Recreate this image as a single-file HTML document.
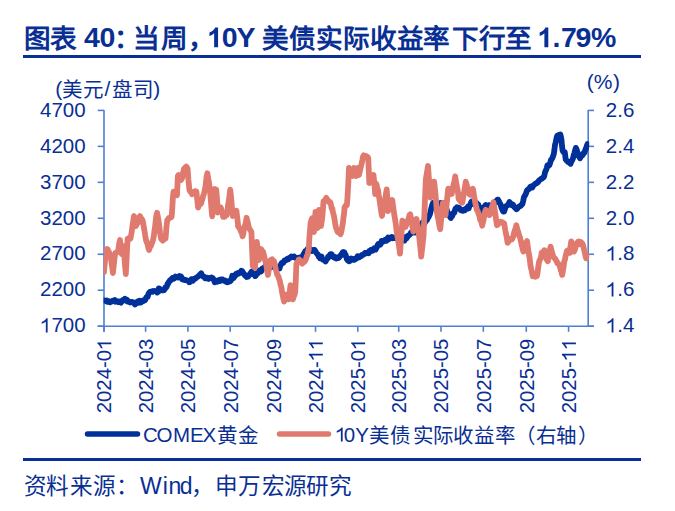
<!DOCTYPE html>
<html lang="zh-CN"><head><meta charset="utf-8">
<style>
html,body{margin:0;padding:0;background:#fff;}
body{width:675px;height:511px;overflow:hidden;position:relative;}
svg{position:absolute;left:0;top:0;}
text{font-family:"Liberation Sans",sans-serif;}
</style></head><body>
<svg width="675" height="511" viewBox="0 0 675 511">
<rect x="0" y="0" width="675" height="511" fill="#fff"/>
<defs><clipPath id="pc"><rect x="103.6" y="0" width="485.6" height="511"/></clipPath></defs>
<text x="23.50" y="47.7" font-size="26.6" font-weight="bold" fill="#0a2f94">图</text><text x="50.05" y="47.7" font-size="26.6" font-weight="bold" fill="#0a2f94">表</text><text x="84.00" y="47.2" font-size="28.5" font-weight="bold" fill="#0a2f94">4</text><text x="99.55" y="47.2" font-size="28.5" font-weight="bold" fill="#0a2f94">0</text><text x="114.40" y="47.7" font-size="26.6" font-weight="bold" fill="#0a2f94">：</text><text x="133.35" y="47.7" font-size="26.6" font-weight="bold" fill="#0a2f94">当</text><text x="161.05" y="47.7" font-size="26.6" font-weight="bold" fill="#0a2f94">周</text><text x="188.45" y="47.7" font-size="26.6" font-weight="bold" fill="#0a2f94">，</text><path transform="translate(206.21,47.20) scale(0.01392,-0.01392)" d="M851 0L570 0L570 1000C472 910 360 845 232 802L232 1050C304 1075 382 1118 466 1180C550 1243 609 1319 643 1409L851 1409Z" fill="#0a2f94"/><text x="221.85" y="47.2" font-size="28.5" font-weight="bold" fill="#0a2f94">0</text><text x="236.50" y="47.2" font-size="28.5" font-weight="bold" fill="#0a2f94">Y</text><text x="261.95" y="47.7" font-size="26.6" font-weight="bold" fill="#0a2f94">美</text><text x="289.05" y="47.7" font-size="26.6" font-weight="bold" fill="#0a2f94">债</text><text x="315.80" y="47.7" font-size="26.6" font-weight="bold" fill="#0a2f94">实</text><text x="342.85" y="47.7" font-size="26.6" font-weight="bold" fill="#0a2f94">际</text><text x="369.60" y="47.7" font-size="26.6" font-weight="bold" fill="#0a2f94">收</text><text x="396.75" y="47.7" font-size="26.6" font-weight="bold" fill="#0a2f94">益</text><text x="423.35" y="47.7" font-size="26.6" font-weight="bold" fill="#0a2f94">率</text><text x="451.95" y="47.7" font-size="26.6" font-weight="bold" fill="#0a2f94">下</text><text x="478.70" y="47.7" font-size="26.6" font-weight="bold" fill="#0a2f94">行</text><text x="504.80" y="47.7" font-size="26.6" font-weight="bold" fill="#0a2f94">至</text><path transform="translate(536.46,47.20) scale(0.01392,-0.01392)" d="M851 0L570 0L570 1000C472 910 360 845 232 802L232 1050C304 1075 382 1118 466 1180C550 1243 609 1319 643 1409L851 1409Z" fill="#0a2f94"/><text x="552.45" y="47.2" font-size="28.5" font-weight="bold" fill="#0a2f94">.</text><text x="560.90" y="47.2" font-size="28.5" font-weight="bold" fill="#0a2f94">7</text><text x="575.55" y="47.2" font-size="28.5" font-weight="bold" fill="#0a2f94">9</text><text x="591.00" y="47.2" font-size="28.5" font-weight="bold" fill="#0a2f94">%</text>
<rect x="23" y="55" width="618" height="3" fill="#0a2f94"/>
<g fill="#0a2f94" font-size="20.5">
<path transform="translate(40.00,332.40) scale(0.01001,-0.01001)" d="M763 0L583 0L583 1100C538 1058 480 1016 410 975C340 934 230 890 170 870L170 1040C269 1086 380 1150 470 1222C545 1289 613 1351 645 1409L763 1409Z" fill="#0a2f94"/><text x="51.40" y="332.40" font-size="20.5" font-weight="normal" fill="#0a2f94">700</text><text x="40.00" y="296.43" font-size="20.5" font-weight="normal" fill="#0a2f94">2200</text><text x="40.00" y="260.47" font-size="20.5" font-weight="normal" fill="#0a2f94">2700</text><text x="40.00" y="224.50" font-size="20.5" font-weight="normal" fill="#0a2f94">3200</text><text x="40.00" y="188.53" font-size="20.5" font-weight="normal" fill="#0a2f94">3700</text><text x="40.00" y="152.57" font-size="20.5" font-weight="normal" fill="#0a2f94">4200</text><text x="40.00" y="116.60" font-size="20.5" font-weight="normal" fill="#0a2f94">4700</text>
<path transform="translate(605.80,332.40) scale(0.01001,-0.01001)" d="M763 0L583 0L583 1100C538 1058 480 1016 410 975C340 934 230 890 170 870L170 1040C269 1086 380 1150 470 1222C545 1289 613 1351 645 1409L763 1409Z" fill="#0a2f94"/><text x="617.20" y="332.40" font-size="20.5" font-weight="normal" fill="#0a2f94">.4</text><path transform="translate(605.80,296.43) scale(0.01001,-0.01001)" d="M763 0L583 0L583 1100C538 1058 480 1016 410 975C340 934 230 890 170 870L170 1040C269 1086 380 1150 470 1222C545 1289 613 1351 645 1409L763 1409Z" fill="#0a2f94"/><text x="617.20" y="296.43" font-size="20.5" font-weight="normal" fill="#0a2f94">.6</text><path transform="translate(605.80,260.47) scale(0.01001,-0.01001)" d="M763 0L583 0L583 1100C538 1058 480 1016 410 975C340 934 230 890 170 870L170 1040C269 1086 380 1150 470 1222C545 1289 613 1351 645 1409L763 1409Z" fill="#0a2f94"/><text x="617.20" y="260.47" font-size="20.5" font-weight="normal" fill="#0a2f94">.8</text><text x="605.80" y="224.50" font-size="20.5" font-weight="normal" fill="#0a2f94">2.0</text><text x="605.80" y="188.53" font-size="20.5" font-weight="normal" fill="#0a2f94">2.2</text><text x="605.80" y="152.57" font-size="20.5" font-weight="normal" fill="#0a2f94">2.4</text><text x="605.80" y="116.60" font-size="20.5" font-weight="normal" fill="#0a2f94">2.6</text>
<g transform="translate(111.30,413.2) rotate(-90)"><text x="0.00" y="0.00" font-size="20.3" font-weight="normal" fill="#0a2f94">2024-0</text><path transform="translate(63.21,0.00) scale(0.00991,-0.00991)" d="M763 0L583 0L583 1100C538 1058 480 1016 410 975C340 934 230 890 170 870L170 1040C269 1086 380 1150 470 1222C545 1289 613 1351 645 1409L763 1409Z" fill="#0a2f94"/></g><g transform="translate(152.91,413.2) rotate(-90)"><text x="0.00" y="0.00" font-size="20.3" font-weight="normal" fill="#0a2f94">2024-03</text></g><g transform="translate(195.21,413.2) rotate(-90)"><text x="0.00" y="0.00" font-size="20.3" font-weight="normal" fill="#0a2f94">2024-05</text></g><g transform="translate(237.50,413.2) rotate(-90)"><text x="0.00" y="0.00" font-size="20.3" font-weight="normal" fill="#0a2f94">2024-07</text></g><g transform="translate(280.50,413.2) rotate(-90)"><text x="0.00" y="0.00" font-size="20.3" font-weight="normal" fill="#0a2f94">2024-09</text></g><g transform="translate(322.80,413.2) rotate(-90)"><text x="0.00" y="0.00" font-size="20.3" font-weight="normal" fill="#0a2f94">2024-</text><path transform="translate(51.92,0.00) scale(0.00991,-0.00991)" d="M763 0L583 0L583 1100C538 1058 480 1016 410 975C340 934 230 890 170 870L170 1040C269 1086 380 1150 470 1222C545 1289 613 1351 645 1409L763 1409Z" fill="#0a2f94"/><path transform="translate(63.21,0.00) scale(0.00991,-0.00991)" d="M763 0L583 0L583 1100C538 1058 480 1016 410 975C340 934 230 890 170 870L170 1040C269 1086 380 1150 470 1222C545 1289 613 1351 645 1409L763 1409Z" fill="#0a2f94"/></g><g transform="translate(365.10,413.2) rotate(-90)"><text x="0.00" y="0.00" font-size="20.3" font-weight="normal" fill="#0a2f94">2025-0</text><path transform="translate(63.21,0.00) scale(0.00991,-0.00991)" d="M763 0L583 0L583 1100C538 1058 480 1016 410 975C340 934 230 890 170 870L170 1040C269 1086 380 1150 470 1222C545 1289 613 1351 645 1409L763 1409Z" fill="#0a2f94"/></g><g transform="translate(406.01,413.2) rotate(-90)"><text x="0.00" y="0.00" font-size="20.3" font-weight="normal" fill="#0a2f94">2025-03</text></g><g transform="translate(448.31,413.2) rotate(-90)"><text x="0.00" y="0.00" font-size="20.3" font-weight="normal" fill="#0a2f94">2025-05</text></g><g transform="translate(490.61,413.2) rotate(-90)"><text x="0.00" y="0.00" font-size="20.3" font-weight="normal" fill="#0a2f94">2025-07</text></g><g transform="translate(533.60,413.2) rotate(-90)"><text x="0.00" y="0.00" font-size="20.3" font-weight="normal" fill="#0a2f94">2025-09</text></g><g transform="translate(575.90,413.2) rotate(-90)"><text x="0.00" y="0.00" font-size="20.3" font-weight="normal" fill="#0a2f94">2025-</text><path transform="translate(51.92,0.00) scale(0.00991,-0.00991)" d="M763 0L583 0L583 1100C538 1058 480 1016 410 975C340 934 230 890 170 870L170 1040C269 1086 380 1150 470 1222C545 1289 613 1351 645 1409L763 1409Z" fill="#0a2f94"/><path transform="translate(63.21,0.00) scale(0.00991,-0.00991)" d="M763 0L583 0L583 1100C538 1058 480 1016 410 975C340 934 230 890 170 870L170 1040C269 1086 380 1150 470 1222C545 1289 613 1351 645 1409L763 1409Z" fill="#0a2f94"/></g>
</g>
<g stroke="#4f7fd0" stroke-width="1.6" fill="none">
<line x1="104" y1="109.9" x2="104" y2="331.8" /><line x1="588.2" y1="109.9" x2="588.2" y2="326.2" /><line x1="97.7" y1="326.2" x2="594" y2="326.2" /><line x1="97.7" y1="326.20" x2="104" y2="326.20" /><line x1="588.2" y1="326.20" x2="594" y2="326.20" /><line x1="97.7" y1="290.23" x2="104" y2="290.23" /><line x1="588.2" y1="290.23" x2="594" y2="290.23" /><line x1="97.7" y1="254.27" x2="104" y2="254.27" /><line x1="588.2" y1="254.27" x2="594" y2="254.27" /><line x1="97.7" y1="218.30" x2="104" y2="218.30" /><line x1="588.2" y1="218.30" x2="594" y2="218.30" /><line x1="97.7" y1="182.33" x2="104" y2="182.33" /><line x1="588.2" y1="182.33" x2="594" y2="182.33" /><line x1="97.7" y1="146.37" x2="104" y2="146.37" /><line x1="588.2" y1="146.37" x2="594" y2="146.37" /><line x1="97.7" y1="110.40" x2="104" y2="110.40" /><line x1="588.2" y1="110.40" x2="594" y2="110.40" /><line x1="104.00" y1="326.2" x2="104.00" y2="331.8" /><line x1="145.61" y1="326.2" x2="145.61" y2="331.8" /><line x1="187.91" y1="326.2" x2="187.91" y2="331.8" /><line x1="230.20" y1="326.2" x2="230.20" y2="331.8" /><line x1="273.20" y1="326.2" x2="273.20" y2="331.8" /><line x1="315.50" y1="326.2" x2="315.50" y2="331.8" /><line x1="357.80" y1="326.2" x2="357.80" y2="331.8" /><line x1="398.71" y1="326.2" x2="398.71" y2="331.8" /><line x1="441.01" y1="326.2" x2="441.01" y2="331.8" /><line x1="483.31" y1="326.2" x2="483.31" y2="331.8" /><line x1="526.30" y1="326.2" x2="526.30" y2="331.8" /><line x1="568.60" y1="326.2" x2="568.60" y2="331.8" />
</g>
<g clip-path="url(#pc)">
<path d="M103.0,300.3 L104.0,300.3 L104.7,300.6 L105.3,300.6 L106.0,301.1 L106.7,300.5 L107.3,301.8 L108.0,301.0 L108.7,301.1 L109.3,301.5 L110.0,302.3 L110.6,301.9 L111.2,301.7 L111.9,301.5 L112.6,300.8 L113.3,301.1 L114.0,300.6 L114.7,300.1 L115.4,301.7 L116.1,300.8 L116.7,301.7 L117.4,301.7 L118.1,302.0 L118.8,301.5 L119.4,301.5 L120.1,302.4 L120.8,302.7 L121.4,301.9 L122.1,301.0 L122.8,300.1 L123.4,299.8 L124.1,299.5 L124.8,298.8 L125.4,300.4 L126.1,300.3 L126.8,299.8 L127.4,301.4 L128.1,301.0 L128.8,301.4 L129.5,302.1 L130.1,302.6 L130.8,302.0 L131.5,301.9 L132.2,302.1 L132.9,302.3 L133.6,303.0 L134.3,303.5 L135.0,304.4 L135.7,303.7 L136.3,302.2 L137.0,302.4 L137.7,301.5 L138.3,302.8 L139.0,302.3 L139.6,300.8 L140.3,302.0 L141.0,302.4 L141.6,301.3 L142.3,300.8 L143.0,301.2 L143.7,300.3 L144.3,300.1 L145.0,300.3 L145.7,298.8 L146.4,297.3 L147.1,296.9 L147.7,296.8 L148.4,294.1 L149.1,292.7 L149.8,292.0 L150.5,292.1 L151.2,291.5 L151.9,291.3 L152.6,291.8 L153.3,291.0 L154.0,291.1 L154.6,291.0 L155.3,291.2 L156.0,291.4 L156.7,291.1 L157.3,292.5 L158.0,292.0 L158.8,288.4 L159.6,288.7 L160.4,290.2 L161.1,290.3 L161.8,290.3 L162.6,290.0 L163.3,290.3 L164.0,290.2 L164.7,289.3 L165.3,287.4 L166.0,287.5 L166.7,286.9 L167.4,284.1 L168.0,283.9 L168.7,282.0 L169.4,281.6 L170.0,280.1 L170.7,280.1 L171.4,279.8 L172.0,278.6 L172.7,277.9 L173.4,277.7 L174.0,278.6 L174.7,277.8 L175.4,276.5 L176.0,276.9 L176.7,277.4 L177.4,277.3 L178.1,277.6 L178.7,276.8 L179.4,276.0 L180.1,276.5 L180.9,276.5 L181.6,277.5 L182.3,279.4 L183.0,279.7 L183.8,279.4 L184.5,280.0 L185.2,279.8 L185.8,279.8 L186.5,280.3 L187.2,280.6 L187.9,280.9 L188.5,280.9 L189.2,282.3 L189.9,282.1 L190.7,280.8 L191.4,279.1 L192.1,279.3 L192.9,280.7 L193.6,279.9 L194.4,278.6 L195.1,278.8 L195.8,278.2 L196.4,277.5 L197.1,277.0 L197.8,276.8 L198.5,276.1 L199.2,275.7 L199.8,274.5 L200.5,274.0 L201.2,273.3 L201.8,274.5 L202.5,275.8 L203.2,276.6 L203.8,276.4 L204.5,277.0 L205.1,278.4 L205.8,278.2 L206.5,277.9 L207.2,277.7 L207.9,278.4 L208.6,278.9 L209.4,278.0 L210.1,277.9 L210.8,278.1 L211.5,277.5 L212.2,278.5 L212.9,278.2 L213.5,279.6 L214.1,280.6 L214.7,282.3 L215.4,282.0 L216.1,281.4 L216.8,281.8 L217.5,280.6 L218.2,280.2 L218.9,281.3 L219.6,281.1 L220.3,279.7 L221.0,279.4 L221.7,279.4 L222.4,279.4 L223.1,280.5 L223.7,280.7 L224.4,280.3 L225.1,280.3 L225.8,281.6 L226.4,281.9 L227.1,282.3 L227.8,282.3 L228.6,281.3 L229.3,281.7 L230.1,281.3 L230.8,280.6 L231.5,278.8 L232.3,275.8 L233.0,277.6 L233.7,277.9 L234.4,276.6 L235.2,275.6 L235.9,274.1 L236.6,274.6 L237.3,273.2 L237.9,273.0 L238.6,273.6 L239.3,273.3 L240.0,272.6 L240.7,271.7 L241.3,270.8 L242.0,271.0 L242.7,271.8 L243.3,273.3 L244.0,273.8 L244.7,275.0 L245.4,275.8 L246.0,276.2 L246.7,277.0 L247.4,276.8 L248.1,276.6 L248.8,275.2 L249.5,274.9 L250.2,273.6 L250.9,272.9 L251.6,271.6 L252.3,273.2 L253.0,274.3 L253.8,273.6 L254.5,274.3 L255.2,276.1 L255.9,275.4 L256.6,273.9 L257.2,273.9 L257.9,273.3 L258.6,271.8 L259.2,270.6 L259.9,271.3 L260.6,271.7 L261.2,271.4 L261.9,268.9 L262.6,268.3 L263.4,268.5 L264.1,267.6 L264.9,266.7 L265.6,267.6 L266.3,268.4 L267.1,267.7 L267.8,267.5 L268.5,267.5 L269.2,266.9 L269.9,267.3 L270.6,266.8 L271.2,266.9 L271.9,266.9 L272.6,266.6 L273.3,266.5 L274.0,266.0 L274.7,267.2 L275.4,267.0 L276.0,267.8 L276.7,267.4 L277.4,267.8 L278.0,267.8 L278.7,268.4 L279.4,268.5 L280.2,266.0 L280.9,264.7 L281.7,263.0 L282.4,263.4 L283.2,262.9 L283.9,261.8 L284.6,260.3 L285.4,260.2 L286.1,260.3 L286.9,259.0 L287.6,258.8 L288.3,259.2 L289.1,257.9 L289.8,257.8 L290.6,257.4 L291.3,256.5 L292.0,257.2 L292.8,256.6 L293.5,257.0 L294.2,256.6 L294.8,257.3 L295.5,258.0 L296.2,258.1 L296.9,258.0 L297.5,258.0 L298.2,259.4 L298.9,259.7 L299.5,257.6 L300.2,257.4 L300.9,258.4 L301.6,257.2 L302.2,257.0 L302.9,255.9 L303.7,253.7 L304.4,253.3 L305.2,251.2 L306.0,252.4 L306.7,250.8 L307.5,248.9 L308.2,249.5 L309.0,250.0 L309.7,249.1 L310.4,249.2 L311.1,249.9 L311.8,251.0 L312.5,250.7 L313.2,250.3 L313.9,250.0 L314.6,250.0 L315.3,251.0 L316.0,252.3 L316.7,253.4 L317.4,254.0 L318.1,255.0 L318.8,256.8 L319.4,257.1 L320.1,258.3 L320.8,257.6 L321.5,256.5 L322.1,258.3 L322.8,259.6 L323.5,259.6 L324.2,260.2 L324.8,260.8 L325.5,261.5 L326.2,259.9 L326.9,259.3 L327.5,258.5 L328.2,256.5 L328.9,256.0 L329.5,256.6 L330.2,254.3 L330.9,254.1 L331.6,254.3 L332.2,255.6 L332.9,256.1 L333.5,257.1 L334.2,257.6 L334.9,256.9 L335.5,257.0 L336.2,258.5 L337.0,258.1 L337.7,257.6 L338.5,258.0 L339.2,257.4 L340.0,256.0 L340.7,255.7 L341.4,254.3 L342.1,253.3 L342.8,252.1 L343.5,252.0 L344.2,252.2 L344.9,253.9 L345.6,254.8 L346.2,256.8 L346.9,259.2 L347.6,260.3 L348.3,260.7 L349.0,261.3 L349.7,261.0 L350.4,260.0 L351.1,258.4 L351.8,258.9 L352.5,259.8 L353.2,259.7 L353.9,259.0 L354.6,259.7 L355.4,259.1 L356.1,258.6 L356.8,258.0 L357.5,256.2 L358.3,256.2 L359.0,257.5 L359.7,256.9 L360.5,256.1 L361.2,256.2 L362.0,254.9 L362.7,254.8 L363.5,254.6 L364.2,254.0 L364.9,253.1 L365.7,253.5 L366.4,253.4 L367.2,252.3 L367.9,252.3 L368.7,253.3 L369.4,251.0 L370.1,251.4 L370.8,250.0 L371.5,249.6 L372.2,249.5 L372.8,250.7 L373.5,249.7 L374.2,248.3 L374.9,248.9 L375.6,249.5 L376.2,248.5 L376.9,247.1 L377.5,245.3 L378.2,244.1 L378.8,245.0 L379.5,244.6 L380.2,244.8 L380.9,243.6 L381.6,240.9 L382.2,241.2 L382.9,241.6 L383.6,240.9 L384.3,241.1 L385.0,240.0 L385.7,240.8 L386.5,240.8 L387.2,238.8 L388.0,237.6 L388.7,239.3 L389.5,238.7 L390.2,237.5 L391.0,238.0 L391.8,237.2 L392.5,238.1 L393.3,237.5 L394.0,238.1 L394.8,238.2 L395.5,237.8 L396.3,237.1 L397.0,238.5 L397.8,239.0 L398.5,238.7 L399.2,238.6 L400.0,239.6 L400.7,240.3 L401.4,240.8 L402.2,240.2 L402.9,239.6 L403.7,239.9 L404.4,240.5 L405.2,239.4 L406.0,237.0 L406.7,238.2 L407.3,237.1 L408.0,235.7 L408.7,235.6 L409.3,235.1 L410.0,234.3 L410.7,233.1 L411.3,232.3 L412.0,233.0 L412.7,232.8 L413.3,230.7 L414.0,230.8 L414.7,232.0 L415.3,232.5 L416.0,230.9 L416.7,229.4 L417.3,229.1 L418.0,229.0 L418.7,227.7 L419.3,227.2 L420.0,225.5 L420.7,224.5 L421.3,224.4 L422.0,224.0 L422.7,222.3 L423.4,222.7 L424.1,223.8 L424.9,222.6 L425.6,220.8 L426.3,220.6 L427.0,220.0 L427.8,217.9 L428.5,217.3 L429.2,215.7 L430.0,214.0 L430.8,210.5 L431.5,207.6 L432.2,205.1 L433.0,203.0 L433.7,204.1 L434.4,204.2 L435.1,203.4 L435.9,202.3 L436.6,202.3 L437.3,202.4 L438.0,203.0 L438.7,203.6 L439.3,203.9 L440.0,203.3 L440.7,202.9 L441.3,203.1 L442.0,203.7 L442.7,203.3 L443.3,203.1 L444.0,204.0 L444.7,205.0 L445.4,205.6 L446.0,207.3 L446.7,209.8 L447.4,212.2 L448.1,213.0 L448.8,214.3 L449.4,215.6 L450.1,216.9 L450.8,218.0 L451.5,216.1 L452.2,216.1 L452.8,214.0 L453.5,212.9 L454.2,212.9 L454.9,210.4 L455.5,208.6 L456.2,208.1 L456.9,207.3 L457.6,207.7 L458.4,207.7 L459.1,207.8 L459.9,209.1 L460.6,210.0 L461.3,210.4 L462.1,210.3 L462.8,210.8 L463.5,209.8 L464.3,209.6 L465.0,210.2 L465.8,208.7 L466.5,208.4 L467.2,207.8 L468.0,206.6 L468.7,208.4 L469.5,205.8 L470.3,204.4 L471.1,202.5 L471.8,201.5 L472.5,201.6 L473.2,203.5 L473.9,204.2 L474.6,203.1 L475.4,202.7 L476.1,202.6 L476.8,203.2 L477.5,204.3 L478.2,204.3 L478.9,206.7 L479.5,207.3 L480.1,207.4 L480.8,207.9 L481.5,208.1 L482.1,211.0 L482.8,209.5 L483.5,208.6 L484.3,207.4 L485.0,205.7 L485.7,205.0 L486.4,206.0 L487.1,205.9 L487.9,206.2 L488.6,205.3 L489.3,205.1 L490.0,207.0 L490.7,206.9 L491.4,206.7 L492.0,204.8 L492.7,204.8 L493.4,203.8 L494.1,203.6 L494.7,203.1 L495.4,201.7 L496.1,201.0 L496.8,200.9 L497.4,199.6 L498.1,199.7 L498.8,201.1 L499.4,202.3 L500.1,203.6 L500.8,205.1 L501.4,207.4 L502.1,209.1 L502.7,210.6 L503.4,211.6 L504.1,211.4 L504.7,209.8 L505.4,207.5 L506.1,206.0 L506.7,205.9 L507.4,205.4 L508.1,204.5 L508.7,203.7 L509.4,202.0 L510.1,202.7 L510.8,205.0 L511.5,205.1 L512.2,204.3 L513.0,204.6 L513.7,206.3 L514.4,207.2 L515.1,207.2 L515.8,208.6 L516.5,209.2 L517.2,208.6 L518.0,207.6 L518.7,206.6 L519.5,206.3 L520.2,206.1 L520.9,205.6 L521.7,204.6 L522.4,203.9 L523.2,200.9 L524.0,197.0 L524.7,195.9 L525.4,194.9 L526.1,193.2 L526.8,191.0 L527.5,189.8 L528.2,189.3 L528.9,189.1 L529.6,188.0 L530.3,186.9 L531.0,186.7 L531.7,186.2 L532.4,187.4 L533.1,185.7 L533.8,185.2 L534.5,184.5 L535.2,183.9 L535.9,183.4 L536.6,183.3 L537.2,182.4 L537.9,182.3 L538.5,181.4 L539.2,180.2 L539.9,179.8 L540.5,179.4 L541.2,178.7 L542.0,178.6 L542.8,177.7 L543.5,177.4 L544.2,176.3 L544.8,173.2 L545.5,170.9 L546.1,169.9 L546.8,168.0 L547.4,165.3 L548.1,165.1 L548.8,165.7 L549.4,165.0 L550.0,163.4 L550.6,161.4 L551.2,159.4 L551.9,159.0 L552.5,157.8 L553.1,156.0 L553.8,154.1 L554.4,150.0 L555.0,145.0 L555.8,141.9 L556.5,138.2 L557.2,135.8 L558.0,135.5 L558.8,134.9 L559.6,135.3 L560.4,134.5 L561.0,137.4 L561.5,140.0 L562.0,146.0 L562.6,150.6 L563.3,151.9 L564.1,151.7 L564.8,152.3 L565.7,159.4 L566.4,160.4 L567.2,160.9 L567.9,162.0 L568.6,161.9 L569.2,162.7 L569.9,163.2 L570.6,163.8 L571.2,161.7 L571.9,160.6 L572.6,159.5 L573.2,157.6 L573.9,154.5 L574.5,153.0 L575.1,150.5 L575.8,147.9 L576.5,149.0 L577.1,151.2 L577.8,153.0 L578.5,155.8 L579.3,157.0 L580.1,158.3 L580.8,156.3 L581.5,155.6 L582.3,155.5 L583.0,154.4 L583.8,152.8 L584.5,152.6 L585.2,150.3 L586.0,148.5 L586.8,145.8 L587.5,144.1" fill="none" stroke="#00309a" stroke-width="5.8" stroke-linejoin="round" stroke-linecap="round"/>
<path d="M103.0,272.0 L104.0,272.0 L104.8,263.2 L105.5,255.0 L106.2,250.5 L107.0,249.0 L107.7,249.3 L108.3,251.8 L109.0,252.0 L109.8,254.5 L110.6,256.0 L111.4,261.7 L112.1,266.7 L112.9,273.0 L113.7,265.7 L114.5,258.7 L115.3,253.0 L116.1,253.1 L116.8,252.1 L117.6,252.0 L118.4,249.3 L119.2,243.7 L120.0,240.0 L120.8,246.8 L121.7,254.0 L122.3,250.9 L122.9,249.7 L123.5,246.0 L124.3,255.5 L125.0,265.2 L125.8,274.0 L126.4,263.4 L127.0,250.2 L127.6,239.0 L128.4,239.6 L129.1,237.9 L129.9,239.0 L130.5,238.4 L131.1,235.1 L131.7,232.0 L132.5,225.6 L133.2,221.4 L134.0,216.0 L134.7,219.4 L135.3,223.1 L136.0,226.0 L136.7,224.2 L137.3,223.2 L138.0,222.7 L138.7,220.3 L139.3,217.4 L140.0,216.0 L140.8,218.2 L141.5,218.7 L142.2,219.6 L143.0,222.0 L143.8,227.1 L144.5,230.7 L145.2,235.4 L146.0,240.0 L146.8,242.5 L147.5,243.8 L148.2,247.4 L149.0,250.0 L149.7,247.9 L150.3,246.7 L151.0,245.8 L151.7,243.5 L152.3,242.3 L153.0,240.0 L153.8,236.2 L154.5,230.3 L155.2,225.7 L156.0,218.0 L156.6,214.5 L157.1,212.8 L157.9,216.9 L158.6,221.0 L159.4,226.9 L160.0,232.4 L160.6,236.1 L161.2,239.2 L161.9,239.3 L162.7,240.6 L163.4,239.5 L164.1,239.4 L164.9,237.7 L165.6,238.3 L166.4,227.5 L167.3,219.8 L168.0,219.9 L168.8,218.0 L169.5,217.8 L170.2,217.7 L171.0,217.5 L171.7,216.3 L172.3,207.5 L172.9,197.3 L173.5,191.7 L174.2,192.7 L174.9,194.0 L175.6,194.5 L176.3,194.1 L177.0,195.2 L177.9,175.8 L178.6,175.0 L179.3,176.0 L180.0,177.5 L180.7,180.1 L181.4,179.4 L182.1,177.9 L182.7,174.9 L183.3,171.8 L184.0,168.8 L184.7,168.4 L185.4,167.2 L186.2,166.6 L186.9,167.3 L187.6,168.8 L188.4,179.8 L189.3,189.0 L190.0,191.5 L190.7,191.5 L191.4,192.1 L192.1,194.3 L192.8,193.4 L193.5,193.7 L194.2,193.3 L195.0,191.3 L195.7,191.1 L196.4,191.7 L197.2,199.2 L198.1,207.5 L198.8,205.9 L199.6,203.5 L200.3,203.1 L201.0,203.7 L201.8,200.8 L202.5,198.7 L203.2,195.7 L203.8,194.3 L204.4,192.1 L205.1,189.0 L205.9,182.8 L206.6,176.6 L207.4,173.2 L208.1,178.6 L208.8,181.2 L209.5,186.4 L210.2,192.5 L210.8,199.9 L211.5,208.9 L212.2,216.3 L212.8,208.3 L213.4,200.1 L214.0,190.8 L214.7,189.1 L215.5,191.0 L216.2,189.6 L217.1,199.9 L217.9,212.5 L218.6,212.0 L219.2,209.9 L219.9,209.4 L220.6,207.2 L221.2,208.8 L221.9,211.7 L222.5,213.0 L223.2,216.9 L223.9,216.7 L224.6,216.8 L225.3,214.6 L226.0,213.7 L226.7,215.1 L227.4,211.6 L228.1,204.9 L228.8,200.6 L229.5,196.0 L230.2,189.6 L230.9,195.4 L231.6,203.3 L232.2,211.0 L232.9,216.0 L233.6,215.3 L234.3,213.3 L235.0,211.6 L235.7,210.8 L236.4,210.7 L237.0,215.8 L237.6,220.7 L238.2,226.6 L238.9,227.4 L239.7,228.6 L240.4,230.0 L241.1,231.7 L241.9,233.3 L242.6,236.3 L243.3,233.6 L243.9,229.4 L244.6,226.6 L245.3,224.5 L245.9,222.0 L246.6,217.8 L247.3,220.6 L248.0,223.4 L248.7,227.0 L249.4,228.6 L250.1,229.9 L250.7,230.7 L251.4,232.0 L252.1,249.4 L252.8,266.0 L253.5,266.2 L254.2,266.9 L254.9,268.0 L255.6,258.2 L256.2,250.2 L256.9,242.0 L257.6,249.9 L258.3,254.6 L259.0,260.0 L259.7,256.8 L260.3,254.1 L261.0,249.0 L261.7,250.6 L262.4,251.0 L263.1,252.0 L263.8,254.6 L264.5,258.0 L265.2,260.7 L265.9,263.3 L266.5,266.1 L267.2,271.1 L267.9,275.0 L268.6,271.0 L269.2,267.0 L269.9,262.7 L270.6,260.0 L271.3,259.8 L272.0,259.3 L272.6,261.7 L273.3,261.9 L274.0,261.0 L274.6,263.2 L275.3,266.7 L275.9,270.0 L276.7,272.6 L277.4,275.1 L278.2,276.0 L279.0,278.5 L279.8,280.9 L280.6,285.0 L281.4,287.3 L282.1,292.3 L282.9,296.0 L283.5,299.3 L284.1,301.5 L284.9,299.7 L285.6,298.1 L286.4,294.6 L287.2,295.5 L288.0,297.1 L288.8,299.3 L289.6,292.9 L290.5,285.2 L291.3,289.7 L292.1,295.6 L292.9,299.3 L293.7,296.7 L294.4,295.1 L295.2,292.3 L295.8,279.4 L296.4,264.1 L297.1,262.6 L297.9,262.1 L298.6,259.7 L299.3,259.4 L300.0,260.9 L300.7,260.7 L301.5,262.7 L302.2,263.7 L302.9,262.9 L303.7,261.7 L304.4,261.7 L305.2,260.6 L306.0,259.1 L306.8,256.1 L307.6,254.7 L308.1,251.4 L308.7,250.0 L309.5,236.0 L310.1,229.2 L310.6,223.0 L311.2,220.9 L311.9,218.6 L312.5,218.0 L313.2,224.7 L314.0,232.0 L314.8,222.2 L315.5,212.0 L316.2,217.4 L316.8,221.8 L317.5,228.0 L318.2,219.5 L319.0,210.0 L319.7,214.4 L320.3,221.6 L321.0,226.0 L321.8,221.0 L322.5,215.0 L323.5,201.4 L324.2,200.7 L324.9,200.8 L325.6,199.3 L326.3,197.9 L327.0,199.7 L327.7,200.0 L328.4,200.8 L329.1,202.1 L329.8,201.9 L330.5,202.6 L331.1,205.3 L331.7,208.7 L332.3,208.5 L333.0,212.5 L333.8,215.3 L334.5,219.1 L335.2,223.7 L336.0,227.8 L336.8,229.3 L337.6,232.0 L338.3,231.9 L339.1,232.7 L339.8,233.2 L340.5,234.3 L341.3,231.9 L342.0,228.0 L342.8,223.7 L343.4,218.2 L344.0,214.0 L344.6,207.3 L345.4,205.9 L346.1,205.9 L346.9,205.0 L347.5,197.3 L348.2,185.0 L349.0,168.0 L349.7,169.1 L350.3,170.7 L351.0,172.0 L351.8,172.7 L352.5,176.0 L353.2,170.8 L354.0,168.0 L354.7,170.0 L355.3,174.3 L356.0,176.0 L356.8,173.2 L357.5,168.0 L358.2,171.4 L359.0,175.0 L359.7,171.7 L360.3,169.3 L361.0,166.0 L361.6,163.6 L362.3,160.3 L362.9,157.0 L363.7,155.4 L364.4,156.3 L365.2,156.3 L366.0,156.0 L366.7,156.4 L367.5,157.0 L368.2,158.0 L368.8,170.6 L369.3,183.0 L370.0,182.7 L370.8,182.2 L371.5,180.0 L372.2,179.5 L372.8,176.0 L373.5,175.0 L374.4,183.7 L375.2,194.0 L375.8,188.7 L376.4,184.0 L377.2,187.7 L378.0,190.0 L378.7,195.0 L379.3,198.3 L380.0,203.0 L380.7,208.0 L381.3,212.2 L382.0,216.0 L382.7,211.6 L383.3,207.3 L384.0,204.5 L384.7,202.0 L385.4,197.7 L386.0,193.6 L386.7,189.4 L387.4,199.6 L388.0,211.0 L388.7,209.0 L389.3,206.0 L390.0,205.0 L390.7,205.2 L391.5,202.8 L392.2,200.0 L393.0,205.6 L393.8,211.3 L394.5,216.1 L395.3,220.7 L396.0,225.7 L396.6,231.3 L397.3,235.5 L398.0,239.5 L398.7,244.0 L399.3,248.2 L400.0,253.6 L400.8,242.3 L401.6,232.3 L402.4,220.7 L403.2,221.5 L403.9,223.2 L404.7,225.4 L405.5,227.0 L406.2,224.9 L406.8,222.9 L407.5,221.2 L408.2,219.6 L408.9,217.8 L409.5,215.0 L410.2,214.4 L411.0,218.2 L411.8,222.4 L412.5,226.8 L413.3,231.6 L413.9,229.2 L414.6,226.8 L415.2,224.7 L415.9,221.6 L416.5,219.0 L417.3,223.7 L418.0,227.2 L418.8,233.2 L419.6,240.8 L420.4,248.0 L421.2,256.7 L422.0,249.7 L422.7,243.4 L423.5,236.3 L424.3,217.4 L425.0,198.8 L425.8,180.0 L426.5,175.3 L427.3,170.4 L428.0,166.0 L428.6,174.6 L429.3,182.4 L430.0,190.1 L430.6,197.5 L431.3,196.4 L432.0,192.8 L432.7,187.3 L433.4,184.9 L434.1,181.7 L434.8,187.6 L435.4,193.5 L436.1,201.7 L436.7,209.9 L437.4,215.0 L438.1,218.0 L438.8,222.1 L439.5,226.2 L440.2,229.2 L440.9,222.3 L441.5,216.2 L442.2,209.6 L442.9,202.8 L443.5,204.8 L444.2,208.6 L444.9,212.6 L445.5,215.1 L446.2,208.4 L446.9,201.5 L447.5,195.3 L448.2,188.7 L448.9,189.0 L449.6,191.4 L450.3,191.6 L451.0,191.0 L451.7,194.0 L452.4,189.6 L453.1,186.5 L453.8,183.5 L454.5,180.9 L455.2,176.4 L455.9,181.2 L456.6,185.5 L457.3,188.5 L458.0,192.4 L458.7,199.3 L459.4,199.4 L460.1,200.8 L460.9,201.7 L461.6,202.8 L462.3,202.8 L463.0,198.3 L463.7,194.5 L464.4,190.1 L465.1,186.1 L465.8,181.7 L466.5,184.1 L467.2,186.7 L467.9,189.7 L468.6,192.1 L469.3,194.0 L470.0,194.7 L470.7,193.8 L471.4,191.5 L472.1,190.7 L472.8,188.7 L473.5,192.0 L474.1,196.6 L474.8,200.0 L475.4,203.6 L476.1,206.3 L476.8,209.6 L477.5,210.9 L478.2,212.5 L478.9,214.7 L479.6,216.9 L480.2,219.9 L480.9,220.6 L481.6,222.8 L482.2,225.7 L482.9,222.5 L483.6,219.7 L484.4,214.6 L485.1,211.4 L485.8,209.8 L486.5,211.7 L487.2,211.7 L487.9,213.0 L488.6,214.8 L489.3,215.1 L490.0,214.4 L490.7,211.6 L491.4,208.4 L492.1,206.3 L492.8,204.8 L493.5,202.3 L494.2,207.1 L494.9,211.0 L495.6,215.7 L496.3,221.0 L497.0,225.2 L497.7,224.7 L498.4,223.6 L499.2,223.1 L499.9,223.0 L500.6,221.7 L501.3,222.0 L502.0,222.1 L502.7,222.5 L503.4,223.3 L504.1,223.4 L504.8,227.2 L505.5,231.3 L506.2,234.6 L506.9,238.2 L507.6,242.8 L508.3,241.6 L509.1,241.2 L509.8,239.0 L510.5,239.1 L511.3,238.8 L512.0,239.3 L512.7,237.9 L513.5,235.5 L514.2,232.2 L514.9,230.4 L515.7,228.0 L516.4,225.2 L517.1,228.7 L517.9,231.3 L518.6,233.3 L519.3,236.0 L520.1,237.7 L520.8,241.0 L521.4,243.9 L522.1,246.7 L522.8,249.7 L523.4,251.6 L524.1,249.3 L524.8,245.9 L525.6,244.6 L526.3,242.3 L527.0,241.0 L527.7,246.1 L528.4,250.9 L529.1,254.9 L529.8,259.2 L530.5,265.7 L531.2,268.9 L532.0,272.1 L532.7,276.2 L533.4,276.0 L534.1,275.4 L534.8,276.6 L535.5,276.8 L536.2,276.2 L536.9,276.2 L537.6,272.6 L538.2,267.3 L538.9,262.5 L539.6,260.3 L540.3,259.2 L541.0,257.0 L541.7,252.7 L542.4,252.4 L543.0,252.4 L543.7,251.2 L544.4,250.2 L545.1,252.1 L545.8,255.6 L546.4,258.9 L547.1,260.3 L547.8,261.2 L548.5,256.5 L549.2,252.9 L549.9,250.1 L550.6,246.7 L551.3,249.5 L552.0,252.2 L552.6,254.3 L553.3,257.0 L554.0,257.6 L554.7,258.2 L555.3,258.8 L556.0,260.5 L556.7,261.2 L557.4,263.2 L558.1,263.6 L558.8,264.1 L559.5,265.3 L560.2,267.6 L560.9,270.6 L561.5,272.2 L562.2,274.9 L562.9,270.8 L563.6,266.6 L564.3,261.2 L565.0,259.5 L565.6,256.1 L566.3,253.4 L567.0,250.9 L567.7,250.4 L568.4,250.3 L569.1,250.5 L569.8,252.9 L570.5,246.3 L571.2,241.3 L571.9,243.1 L572.5,245.6 L573.2,249.2 L573.9,251.6 L574.6,250.3 L575.3,248.1 L575.9,246.1 L576.6,244.7 L577.3,242.6 L578.0,241.8 L578.7,241.4 L579.3,242.2 L580.0,244.2 L580.7,241.9 L581.4,242.6 L582.1,243.3 L582.8,244.5 L583.5,247.0 L584.2,250.2 L584.9,253.0 L585.5,256.0 L586.2,258.4 L586.9,256.3 L587.6,255.7" fill="none" stroke="#e07a6e" stroke-width="5.8" stroke-linejoin="round" stroke-linecap="round"/>
</g>
<line x1="87.5" y1="434" x2="137.5" y2="434" stroke="#00309a" stroke-width="5.5" stroke-linecap="round"/>
<text x="142.95" y="441.6" font-size="20.5" font-weight="normal" fill="#0a2f94">C</text><text x="156.45" y="441.6" font-size="20.5" font-weight="normal" fill="#0a2f94">O</text><text x="173.05" y="441.6" font-size="20.5" font-weight="normal" fill="#0a2f94">M</text><text x="190.00" y="441.6" font-size="20.5" font-weight="normal" fill="#0a2f94">E</text><text x="202.50" y="441.6" font-size="20.5" font-weight="normal" fill="#0a2f94">X</text><text x="216.90" y="442.8" font-size="20.5" font-weight="normal" fill="#0a2f94">黄</text><text x="237.70" y="442.8" font-size="20.5" font-weight="normal" fill="#0a2f94">金</text>
<line x1="279.5" y1="434" x2="328.5" y2="434" stroke="#e07a6e" stroke-width="5.5" stroke-linecap="round"/>
<path transform="translate(335.03,441.50) scale(0.01001,-0.01001)" d="M763 0L583 0L583 1100C538 1058 480 1016 410 975C340 934 230 890 170 870L170 1040C269 1086 380 1150 470 1222C545 1289 613 1351 645 1409L763 1409Z" fill="#0a2f94"/><text x="343.70" y="441.5" font-size="20.5" font-weight="normal" fill="#0a2f94">0</text><text x="355.35" y="441.5" font-size="20.5" font-weight="normal" fill="#0a2f94">Y</text><text x="369.15" y="443" font-size="20.5" font-weight="normal" fill="#0a2f94">美</text><text x="390.35" y="443" font-size="20.5" font-weight="normal" fill="#0a2f94">债</text><text x="412.85" y="443" font-size="20.5" font-weight="normal" fill="#0a2f94">实</text><text x="432.65" y="443" font-size="20.5" font-weight="normal" fill="#0a2f94">际</text><text x="452.80" y="443" font-size="20.5" font-weight="normal" fill="#0a2f94">收</text><text x="474.15" y="443" font-size="20.5" font-weight="normal" fill="#0a2f94">益</text><text x="495.00" y="443" font-size="20.5" font-weight="normal" fill="#0a2f94">率</text><text x="514.50" y="443" font-size="20.5" font-weight="normal" fill="#0a2f94">（</text><text x="536.00" y="443" font-size="20.5" font-weight="normal" fill="#0a2f94">右</text><text x="555.70" y="443" font-size="20.5" font-weight="normal" fill="#0a2f94">轴</text><text x="578.15" y="443" font-size="20.5" font-weight="normal" fill="#0a2f94">）</text>
<rect x="23" y="458" width="618" height="3" fill="#0a2f94"/>
<text x="24.00" y="494.2" font-size="22.6" font-weight="normal" fill="#0a2f94">资</text><text x="46.15" y="494.2" font-size="22.6" font-weight="normal" fill="#0a2f94">料</text><text x="70.00" y="494.2" font-size="22.6" font-weight="normal" fill="#0a2f94">来</text><text x="93.35" y="494.2" font-size="22.6" font-weight="normal" fill="#0a2f94">源</text><text x="116.15" y="494.2" font-size="22.6" font-weight="normal" fill="#0a2f94">：</text><text x="140.00" y="494" font-size="23" font-weight="normal" fill="#0a2f94">W</text><text x="162.65" y="494" font-size="23" font-weight="normal" fill="#0a2f94">i</text><text x="168.50" y="494" font-size="23" font-weight="normal" fill="#0a2f94">n</text><text x="179.65" y="494" font-size="23" font-weight="normal" fill="#0a2f94">d</text><text x="191.20" y="494.2" font-size="22.6" font-weight="normal" fill="#0a2f94">，</text><text x="214.50" y="494.2" font-size="22.6" font-weight="normal" fill="#0a2f94">申</text><text x="237.65" y="494.2" font-size="22.6" font-weight="normal" fill="#0a2f94">万</text><text x="261.85" y="494.2" font-size="22.6" font-weight="normal" fill="#0a2f94">宏</text><text x="284.20" y="494.2" font-size="22.6" font-weight="normal" fill="#0a2f94">源</text><text x="306.20" y="494.2" font-size="22.6" font-weight="normal" fill="#0a2f94">研</text><text x="328.70" y="494.2" font-size="22.6" font-weight="normal" fill="#0a2f94">究</text>
<text x="55.15" y="95.6" font-size="21" font-weight="normal" fill="#0a2f94">(</text><text x="61.70" y="97.2" font-size="20.5" font-weight="normal" fill="#0a2f94">美</text><text x="82.60" y="97.2" font-size="20.5" font-weight="normal" fill="#0a2f94">元</text><text x="104.50" y="95.6" font-size="21" font-weight="normal" fill="#0a2f94">/</text><text x="111.65" y="97.2" font-size="20.5" font-weight="normal" fill="#0a2f94">盘</text><text x="132.80" y="97.2" font-size="20.5" font-weight="normal" fill="#0a2f94">司</text><text x="153.25" y="95.6" font-size="21" font-weight="normal" fill="#0a2f94">)</text>
<text x="586.70" y="89.2" font-size="21" font-weight="normal" fill="#0a2f94">(</text><text x="593.65" y="89.2" font-size="21" font-weight="normal" fill="#0a2f94">%</text><text x="613.00" y="89.2" font-size="21" font-weight="normal" fill="#0a2f94">)</text>
</svg>
</body></html>
